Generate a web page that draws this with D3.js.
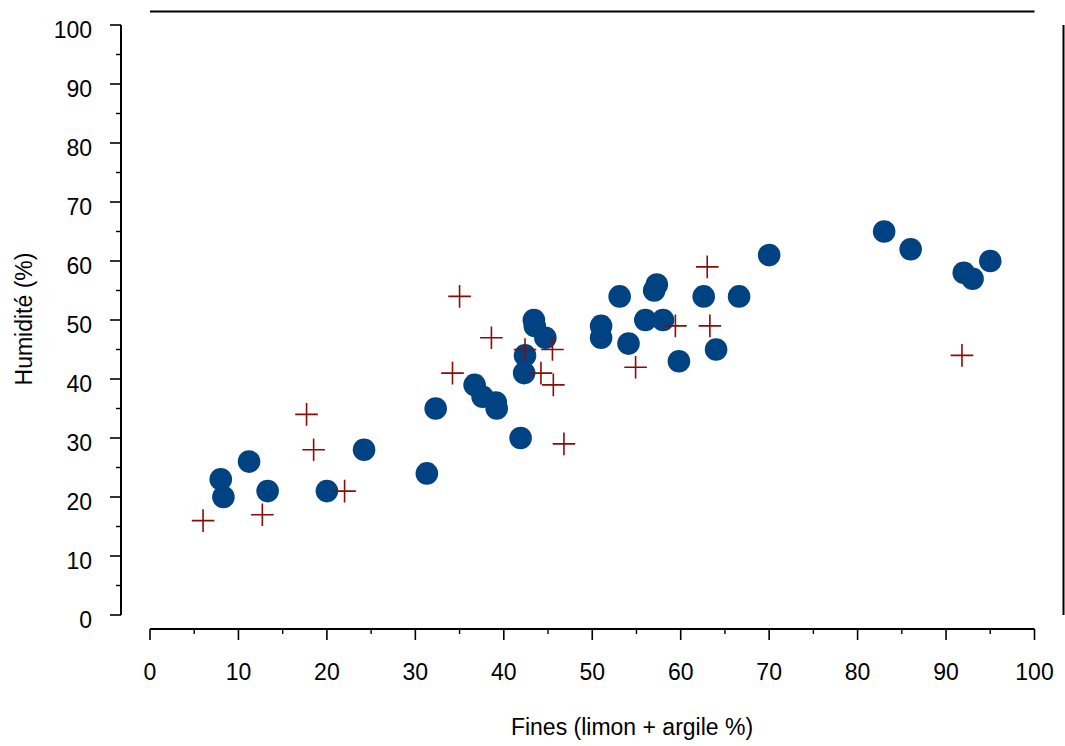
<!DOCTYPE html>
<html>
<head>
<meta charset="utf-8">
<script src="https://cdn.jsdelivr.net/npm/d3@7"></script>
<style>
  html, body { margin: 0; padding: 0; background: #fff; }
  svg { display: block; }
  text { font-family: "Liberation Sans", Arial, sans-serif; fill: #000; }
</style>
</head>
<body>
<svg id="chart" width="1065" height="746"></svg>
<script>
// Blue series (circles): fines %, humidity %
const blueX = [8.0, 8.3, 11.2, 13.3, 20.0, 24.2, 31.3, 32.3, 36.7, 37.6, 39.1, 39.2, 41.9, 42.4, 42.3, 43.4, 43.5, 44.7, 51.0, 51.0, 53.1, 54.1, 56.0, 58.0, 57.3, 57.0, 59.8, 62.6, 64.0, 66.6, 70.0, 83.0, 86.0, 92.0, 93.0, 95.0];
const blueY = [23, 20, 26, 21, 21, 28, 24, 35, 39, 37, 36, 35, 30, 44, 41, 50, 49, 47, 49, 47, 54, 46, 50, 50, 56, 55, 43, 54, 45, 54, 61, 65, 62, 58, 57, 60];

// Red series (crosses)
const redX = [6.0, 12.7, 17.7, 18.5, 22.0, 34.2, 35.0, 38.6, 42.4, 44.2, 45.5, 45.6, 46.8, 54.9, 59.4, 63.0, 63.3, 91.8];
const redY = [16, 17, 34, 28, 21, 41, 54, 47, 45, 41, 45, 39, 29, 42, 49, 59, 49, 44];

const xTicks = [0, 10, 20, 30, 40, 50, 60, 70, 80, 90, 100];
const yTicks = [0, 10, 20, 30, 40, 50, 60, 70, 80, 90, 100];
const xMinor = [5, 15, 25, 35, 45, 55, 65, 75, 85, 95];
const yMinor = [5, 15, 25, 35, 45, 55, 65, 75, 85, 95];

const xTitle = "Fines (limon + argile %)";
const yTitle = "Humidité (%)";

const svg = d3.select("#chart");
const x = d3.scaleLinear().domain([0, 100]).range([150, 1034.5]);
const y = d3.scaleLinear().domain([0, 100]).range([615, 25]);

const fontSize = 23;
const axisX = 121;   // y-axis line position
const axisY = 629;   // x-axis line position

// Y axis
const gy = svg.append("g");
gy.append("line").attr("x1", axisX).attr("x2", axisX)
  .attr("y1", y(0)).attr("y2", y(100)).attr("stroke", "#000").attr("stroke-width", 2);
gy.selectAll("line.maj").data(yTicks).join("line").attr("class", "maj")
  .attr("x1", axisX - 11).attr("x2", axisX).attr("y1", d => y(d)).attr("y2", d => y(d))
  .attr("stroke", "#000").attr("stroke-width", 1.6);
gy.selectAll("line.min").data(yMinor).join("line").attr("class", "min")
  .attr("x1", axisX - 5).attr("x2", axisX).attr("y1", d => y(d)).attr("y2", d => y(d))
  .attr("stroke", "#000").attr("stroke-width", 1.4);
gy.selectAll("text").data(yTicks).join("text")
  .attr("x", 92).attr("y", d => y(d) + 4.5).attr("dy", "0.35em")
  .attr("text-anchor", "end").attr("font-size", fontSize).text(d => d);

// X axis
const gx = svg.append("g");
gx.append("line").attr("x1", x(0)).attr("x2", x(100))
  .attr("y1", axisY).attr("y2", axisY).attr("stroke", "#000").attr("stroke-width", 2);
gx.selectAll("line.maj").data(xTicks).join("line").attr("class", "maj")
  .attr("x1", d => x(d)).attr("x2", d => x(d)).attr("y1", axisY).attr("y2", axisY + 11)
  .attr("stroke", "#000").attr("stroke-width", 1.6);
gx.selectAll("line.min").data(xMinor).join("line").attr("class", "min")
  .attr("x1", d => x(d)).attr("x2", d => x(d)).attr("y1", axisY).attr("y2", axisY + 5)
  .attr("stroke", "#000").attr("stroke-width", 1.4);
gx.selectAll("text").data(xTicks).join("text")
  .attr("x", d => x(d)).attr("y", 680)
  .attr("text-anchor", "middle").attr("font-size", fontSize).text(d => d);

// Frame lines (top and right)
svg.append("line").attr("x1", x(0)).attr("x2", x(100)).attr("y1", 11.5).attr("y2", 11.5)
  .attr("stroke", "#000").attr("stroke-width", 2);
svg.append("line").attr("x1", 1063.5).attr("x2", 1063.5).attr("y1", y(100)).attr("y2", y(0))
  .attr("stroke", "#000").attr("stroke-width", 2);

// Axis titles
svg.append("text").attr("x", 632).attr("y", 735).attr("text-anchor", "middle")
  .attr("font-size", fontSize).text(xTitle);
svg.append("text").attr("transform", `translate(32,319) rotate(-90)`)
  .attr("text-anchor", "middle").attr("font-size", fontSize).text(yTitle);

// Blue circles
const blue = blueX.map((v, i) => ({ x: v, y: blueY[i] }));
svg.append("g").selectAll("circle").data(blue).join("circle")
  .attr("cx", d => x(d.x)).attr("cy", d => y(d.y)).attr("r", 11.3)
  .attr("fill", "#004282");

// Red crosses
const red = redX.map((v, i) => ({ x: v, y: redY[i] }));
const arm = 11.3;
svg.append("g").selectAll("path").data(red).join("path")
  .attr("d", d => {
    const cx = x(d.x), cy = y(d.y);
    return `M${cx - arm},${cy}H${cx + arm}M${cx},${cy - arm}V${cy + arm}`;
  })
  .attr("stroke", "#8b0a0a").attr("stroke-width", 1.6).attr("fill", "none");
</script>
</body>
</html>
